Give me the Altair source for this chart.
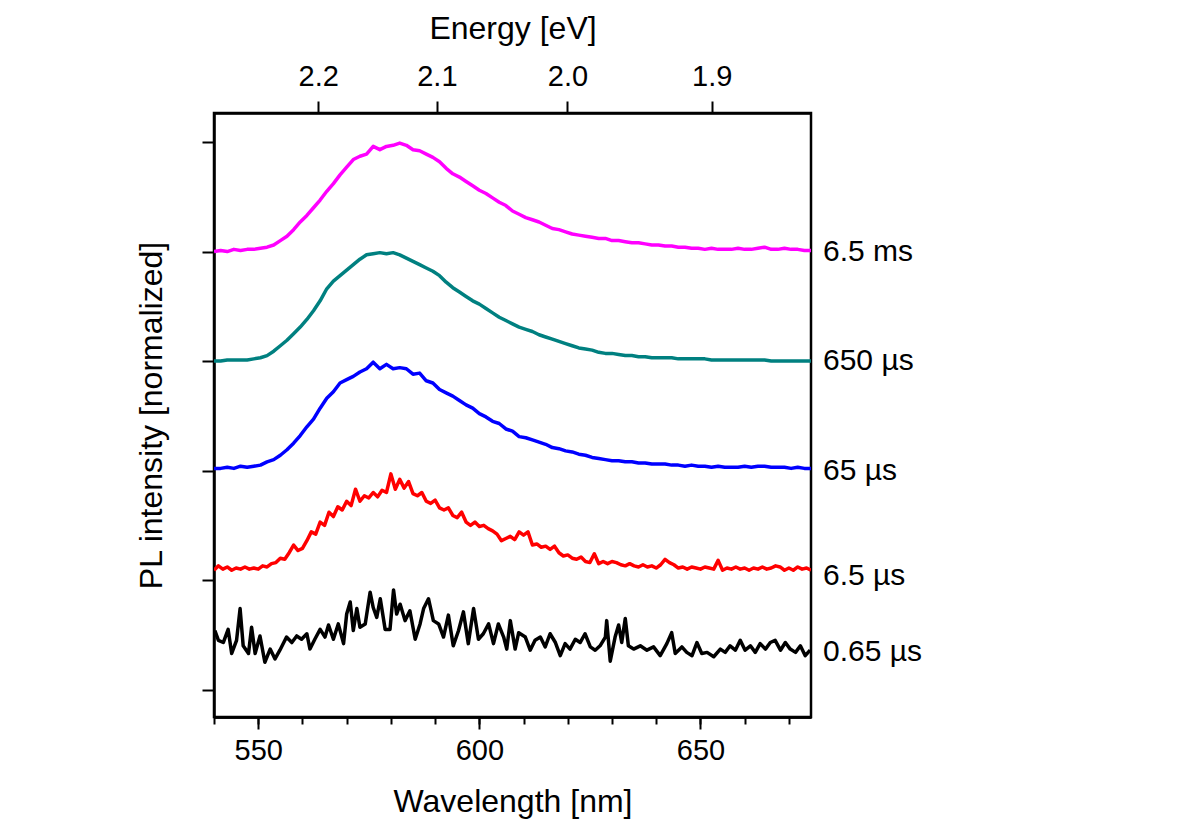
import altair as alt
import pandas as pd

# ---------------- data ----------------
series_names = ["6.5 ms", "650 \u00b5s", "65 \u00b5s", "6.5 \u00b5s", "0.65 \u00b5s"]
series_colors = ["#FF00FF", "#008080", "#0000FF", "#FF0000", "#000000"]

# common grid (nm) for the three smooth curves
wl_smooth = [540 + 1.5 * i for i in range(91)]

magenta = [4.00, 4.01, 4.00, 4.02, 4.01, 4.02, 4.02, 4.03, 4.04, 4.06,
           4.10, 4.14, 4.20, 4.27, 4.33, 4.40, 4.47, 4.55, 4.62, 4.70,
           4.77, 4.84, 4.87, 4.89, 4.96, 4.93, 4.96, 4.97, 4.99, 4.97,
           4.93, 4.92, 4.89, 4.86, 4.82, 4.76, 4.71, 4.68, 4.64, 4.60,
           4.56, 4.53, 4.49, 4.45, 4.42, 4.37, 4.34, 4.31, 4.29, 4.27,
           4.24, 4.21, 4.20, 4.18, 4.16, 4.15, 4.14, 4.13, 4.12, 4.12,
           4.10, 4.10, 4.09, 4.08, 4.08, 4.07, 4.06, 4.06, 4.05, 4.05,
           4.04, 4.04, 4.03, 4.03, 4.02, 4.03, 4.02, 4.02, 4.02, 4.03,
           4.02, 4.02, 4.03, 4.04, 4.02, 4.02, 4.03, 4.02, 4.02, 4.01,
           4.01]

teal = [3.00, 3.00, 3.01, 3.01, 3.01, 3.01, 3.02, 3.03, 3.05, 3.09,
        3.14, 3.19, 3.25, 3.31, 3.38, 3.46, 3.55, 3.66, 3.73, 3.78,
        3.83, 3.88, 3.93, 3.97, 3.98, 3.99, 3.98, 3.99, 3.97, 3.94,
        3.91, 3.88, 3.85, 3.82, 3.78, 3.72, 3.67, 3.63, 3.59, 3.55,
        3.52, 3.48, 3.44, 3.40, 3.37, 3.34, 3.31, 3.29, 3.27, 3.24,
        3.22, 3.20, 3.18, 3.16, 3.14, 3.12, 3.11, 3.10, 3.08, 3.07,
        3.07, 3.06, 3.05, 3.05, 3.04, 3.04, 3.03, 3.03, 3.03, 3.03,
        3.02, 3.02, 3.02, 3.02, 3.02, 3.01, 3.01, 3.01, 3.01, 3.01,
        3.01, 3.01, 3.01, 3.01, 3.00, 3.00, 3.00, 3.00, 3.00, 3.00,
        3.00]

blue = [2.02, 2.02, 2.03, 2.02, 2.04, 2.03, 2.04, 2.05, 2.08, 2.10,
        2.14, 2.19, 2.25, 2.32, 2.40, 2.47, 2.57, 2.66, 2.72, 2.80,
        2.83, 2.86, 2.90, 2.93, 2.99, 2.93, 2.97, 2.93, 2.94, 2.93,
        2.88, 2.89, 2.82, 2.80, 2.74, 2.71, 2.68, 2.64, 2.60, 2.57,
        2.52, 2.49, 2.45, 2.43, 2.38, 2.36, 2.31, 2.30, 2.28, 2.26,
        2.24, 2.21, 2.20, 2.18, 2.17, 2.15, 2.14, 2.12, 2.11, 2.10,
        2.09, 2.09, 2.08, 2.08, 2.07, 2.07, 2.06, 2.06, 2.06, 2.05,
        2.05, 2.04, 2.05, 2.04, 2.04, 2.03, 2.04, 2.03, 2.03, 2.03,
        2.04, 2.03, 2.04, 2.04, 2.03, 2.03, 2.03, 2.02, 2.03, 2.02,
        2.02]

wl_red = [540 + i for i in range(136)]
red = [1.09, 1.13, 1.10, 1.12, 1.09, 1.11, 1.10, 1.12, 1.10, 1.11,
       1.10, 1.13, 1.12, 1.15, 1.16, 1.20, 1.19, 1.25, 1.32, 1.27,
       1.29, 1.36, 1.44, 1.42, 1.53, 1.50, 1.62, 1.58, 1.67, 1.64,
       1.72, 1.68, 1.83, 1.72, 1.77, 1.75, 1.80, 1.76, 1.82, 1.80,
       1.97, 1.83, 1.92, 1.84, 1.90, 1.79, 1.77, 1.80, 1.72, 1.70,
       1.73, 1.66, 1.64, 1.66, 1.59, 1.57, 1.62, 1.53, 1.50, 1.53,
       1.49, 1.50, 1.47, 1.45, 1.42, 1.36, 1.38, 1.40, 1.37, 1.44,
       1.41, 1.44, 1.32, 1.33, 1.30, 1.31, 1.28, 1.31, 1.25, 1.22,
       1.23, 1.20, 1.19, 1.21, 1.17, 1.16, 1.24, 1.15, 1.17, 1.15,
       1.17, 1.16, 1.14, 1.13, 1.15, 1.13, 1.12, 1.14, 1.12, 1.13,
       1.11, 1.14, 1.19, 1.16, 1.14, 1.11, 1.12, 1.10, 1.12, 1.11,
       1.10, 1.12, 1.11, 1.10, 1.18, 1.09, 1.11, 1.10, 1.12, 1.10,
       1.11, 1.09, 1.11, 1.10, 1.12, 1.10, 1.11, 1.13, 1.12, 1.09,
       1.11, 1.09, 1.12, 1.10, 1.11, 1.09]

wl_black = [540.2, 541.0, 542.1, 543.2, 544.0, 545.1, 545.9, 546.6, 547.8, 548.5,
            549.3, 550.4, 551.5, 552.7, 553.8, 554.9, 556.4, 557.6, 558.7, 559.8,
            561.0, 561.7, 562.8, 564.0, 565.1, 565.9, 567.0, 568.1, 569.3, 570.0,
            570.8, 571.5, 572.3, 573.0, 574.2, 575.3, 576.0, 576.8, 577.6, 578.7,
            579.8, 580.6, 581.3, 582.1, 583.2, 584.3, 585.5, 586.6, 587.4, 588.5,
            589.6, 590.8, 591.9, 593.0, 594.1, 595.3, 596.4, 597.5, 598.7, 599.8,
            600.9, 602.1, 603.2, 604.3, 605.5, 606.2, 607.0, 608.1, 608.9, 610.4,
            611.5, 612.6, 613.8, 614.9, 616.0, 617.2, 618.3, 619.4, 620.5, 621.7,
            622.8, 623.9, 625.1, 626.2, 627.3, 628.5, 628.8, 629.6, 630.7, 631.5,
            632.2, 633.0, 633.7, 634.9, 636.4, 637.9, 639.4, 640.9, 642.4, 643.5,
            644.3, 645.8, 646.9, 648.1, 649.2, 650.3, 651.5, 653.0, 654.5, 655.6,
            656.7, 657.9, 659.0, 660.1, 661.3, 662.4, 663.5, 664.7, 665.8, 666.9,
            668.1, 669.2, 670.3, 671.5, 672.6, 673.7, 674.8]
black = [0.54, 0.45, 0.43, 0.55, 0.33, 0.45, 0.74, 0.40, 0.33, 0.57,
         0.33, 0.49, 0.25, 0.37, 0.28, 0.36, 0.48, 0.43, 0.49, 0.46,
         0.51, 0.37, 0.46, 0.55, 0.48, 0.59, 0.46, 0.60, 0.42, 0.69,
         0.80, 0.54, 0.74, 0.57, 0.60, 0.89, 0.75, 0.66, 0.83, 0.55,
         0.55, 0.91, 0.69, 0.78, 0.63, 0.72, 0.46, 0.60, 0.74, 0.83,
         0.63, 0.60, 0.48, 0.68, 0.40, 0.54, 0.71, 0.42, 0.74, 0.46,
         0.51, 0.60, 0.42, 0.60, 0.48, 0.37, 0.63, 0.37, 0.52, 0.48,
         0.36, 0.45, 0.48, 0.39, 0.51, 0.43, 0.31, 0.42, 0.37, 0.46,
         0.43, 0.51, 0.39, 0.36, 0.40, 0.48, 0.63, 0.26, 0.48, 0.59,
         0.43, 0.65, 0.40, 0.37, 0.40, 0.36, 0.39, 0.31, 0.42, 0.52,
         0.33, 0.39, 0.34, 0.31, 0.43, 0.33, 0.34, 0.30, 0.37, 0.34,
         0.40, 0.36, 0.45, 0.36, 0.40, 0.34, 0.42, 0.37, 0.43, 0.45,
         0.36, 0.43, 0.37, 0.34, 0.40, 0.31, 0.36]

# right-hand labels: value level at which each label sits
label_levels = [4.0, 3.0, 2.0, 1.04, 0.34]

# axis tick values
wl_major = [550, 600, 650]
wl_minor = [540, 550, 560, 570, 580, 590, 600, 610, 620, 630, 640, 650, 660, 670]
energy_ticks = [2.2, 2.1, 2.0, 1.9]
y_ticks = [0, 1, 2, 3, 4, 5]
HC = 1239.84  # eV*nm
wl_energy = [HC / e for e in energy_ticks]

# ---------------- build table ----------------
rows = []
for n, wl, vals in [(series_names[0], wl_smooth, magenta),
                    (series_names[1], wl_smooth, teal),
                    (series_names[2], wl_smooth, blue),
                    (series_names[3], wl_red, red),
                    (series_names[4], wl_black, black)]:
    for w, v in zip(wl, vals):
        rows.append({"series": n, "wl": w, "val": v})
df = pd.DataFrame(rows)
labels_df = pd.DataFrame({"series": series_names, "val": label_levels,
                          "wl": [675] * len(series_names)})
energy_df = pd.DataFrame({"wl": wl_energy, "E": energy_ticks})

FONT = "Liberation Sans"
xscale = alt.Scale(domain=[540, 675], nice=False, zero=False)
yscale = alt.Scale(domain=[-0.25, 5.265], nice=False, zero=False)
cscale = alt.Scale(domain=series_names, range=series_colors)

lines = alt.Chart(df).mark_line(strokeWidth=3.5, clip=True, strokeJoin="round").encode(
    x=alt.X("wl:Q", scale=xscale,
            axis=alt.Axis(orient="bottom", values=wl_major, title="Wavelength [nm]",
                          tickSize=12, tickWidth=2, labelPadding=7, titlePadding=21,
                          grid=False)),
    y=alt.Y("val:Q", scale=yscale,
            axis=alt.Axis(orient="left", values=y_ticks, labels=False,
                          title="PL intensity [normalized]", tickSize=12, tickWidth=2,
                          titlePadding=33, grid=False)),
    color=alt.Color("series:N", scale=cscale, legend=None),
    detail="series:N",
)

minor = alt.Chart(energy_df).mark_point(opacity=0).encode(
    x=alt.X("wl:Q", scale=xscale,
            axis=alt.Axis(orient="bottom", values=wl_minor, labels=False, title=None,
                          tickSize=7, tickWidth=2, grid=False)),
    y=alt.Y("E:Q", scale=yscale, axis=None),
)

top = alt.Chart(energy_df).mark_point(opacity=0).encode(
    x=alt.X("wl:Q", scale=xscale,
            axis=alt.Axis(orient="top", values=wl_energy, title="Energy [eV]",
                          labelExpr="format(1239.84 / datum.value, '.1f')",
                          tickSize=12, tickWidth=2, labelPadding=10, titlePadding=17,
                          grid=False)),
    y=alt.Y("E:Q", scale=yscale, axis=None),
)

texts = alt.Chart(labels_df).mark_text(align="left", baseline="middle", dx=12,
                                       fontSize=30, font=FONT, color="black").encode(
    x=alt.X("wl:Q", scale=xscale, axis=None),
    y=alt.Y("val:Q", scale=yscale, axis=None),
    text="series:N",
)

chart = alt.layer(lines, minor, top, texts).resolve_axis(
    x="independent", y="independent"
).properties(
    width=597, height=604,
    autosize=alt.AutoSizeParams(type="none"),
    padding={"left": 206, "top": 105, "right": 370, "bottom": 110},
    background="white",
).configure_view(
    stroke="black", strokeWidth=2.5
).configure_axis(
    domainColor="black", domainWidth=2.5, tickColor="black",
    labelFont=FONT, labelFontSize=29, labelColor="black",
    titleFont=FONT, titleFontSize=32, titleFontWeight="normal", titleColor="black",
)

chart.save("out.html", embed_options={"renderer": "svg", "actions": False})
